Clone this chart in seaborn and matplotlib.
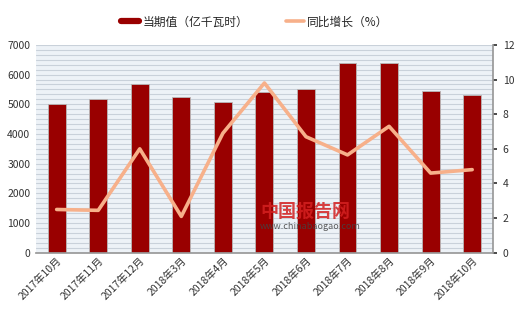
import matplotlib
matplotlib.use("Agg")
import matplotlib.pyplot as plt
import seaborn as sns
import pandas as pd
import numpy as np
from matplotlib.ticker import MultipleLocator
from matplotlib.lines import Line2D

categories = ["2017年10月", "2017年11月", "2017年12月", "2018年3月", "2018年4月", "2018年5月",
              "2018年6月", "2018年7月", "2018年8月", "2018年9月", "2018年10月"]
values = [5020, 5190, 5690, 5260, 5090, 5430, 5530, 6390, 6390, 5450, 5320]
growth = [2.5, 2.45, 6.0, 2.1, 6.9, 9.8, 6.7, 5.65, 7.3, 4.6, 4.8]
bar_label = "当期值（亿千瓦时）"
line_label = "同比增长（%）"

sns.set_theme(style="white")
plt.rcParams['font.family'] = ['Noto Sans CJK SC', 'DejaVu Sans']

df = pd.DataFrame({"month": categories, "value": values, "growth": growth})

fig = plt.figure(figsize=(5.2, 3.16), dpi=100)
ax = fig.add_axes([0.069, 0.2, 0.879, 0.658])
ax.set_facecolor("#edf2f7")

# striped background lines
ax.yaxis.set_minor_locator(MultipleLocator(1000 / 6))
ax.grid(which="minor", axis="y", color="#c9d1da", linewidth=0.8)
ax.grid(which="major", axis="y", color="#c9d1da", linewidth=0.8)
ax.set_axisbelow(True)

sns.barplot(data=df, x="month", y="value", ax=ax, color="#990000", width=0.43,
            saturation=1, edgecolor="#b8b8b8", linewidth=0.6)
ax.set_ylim(0, 7000)
ax.set_yticks(np.arange(0, 7001, 1000))
ax.set_xlim(-0.5, len(categories) - 0.5)
ax.set_xlabel("")
ax.set_ylabel("")
ax.tick_params(axis="y", which="both", labelsize=7.5, colors="#333333", length=0, pad=4)
ax.tick_params(axis="x", labelsize=7.5, colors="#333333", length=0, pad=2)
for lab in ax.get_xticklabels():
    lab.set_rotation(45)
    lab.set_ha("right")
    lab.set_rotation_mode("anchor")
for s in ["top", "right", "left"]:
    ax.spines[s].set_visible(False)
ax.spines["bottom"].set_color("#999999")

ax2 = ax.twinx()
sns.lineplot(data=df, x="month", y="growth", ax=ax2, color="#f7b08a", linewidth=2.6,
             sort=False, legend=False)
ax2.set_ylim(0, 12)
ax2.set_yticks(np.arange(0, 13, 2))
ax2.set_ylabel("")
ax2.set_xlabel("")
ax2.tick_params(axis="y", labelsize=7.5, colors="#333333", length=3, pad=4, direction="out", right=True)
for s in ["top", "left", "bottom"]:
    ax2.spines[s].set_visible(False)
ax2.spines["right"].set_color("#999999")

handles = [Line2D([0], [0], color="#990000", linewidth=4.5),
           Line2D([0], [0], color="#f7b08a", linewidth=2.6)]
fig.legend(handles, [bar_label, line_label], loc="center", bbox_to_anchor=(0.49, 0.93),
           ncol=2, frameon=False, fontsize=8.5, handlelength=1.5, handletextpad=0.3,
           columnspacing=3.2)

# watermark
fig.text(0.5, 0.315, "中国报告网", color="#d42020", fontsize=13, fontweight="bold", alpha=0.85)
fig.text(0.5, 0.275, "www.chinabaogao.com", color="#444444", fontsize=6.5, alpha=0.85)

fig.savefig("out.png", dpi=100)
